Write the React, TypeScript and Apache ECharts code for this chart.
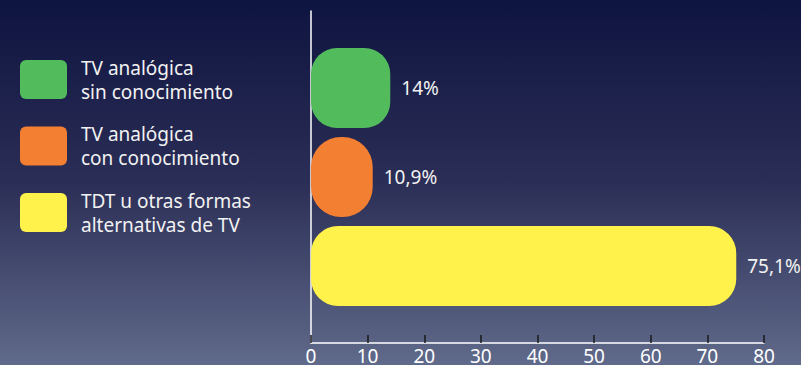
import React, { useEffect, useRef } from "react";
import * as echarts from "echarts";

const categories = ["TV analógica\nsin conocimiento", "TV analógica\ncon conocimiento", "TDT u otras formas\nalternativas de TV"];
const values = [14, 10.9, 75.1];
const valueLabels = ["14%", "10,9%", "75,1%"];
const colors = ["#52bb5c", "#f37f33", "#fff24a"];
const radii = [26, 30, 27];
const xTicks = [0, 10, 20, 30, 40, 50, 60, 70, 80];

const FONT = "'Noto Sans', sans-serif";

export default function App() {
  const ref = useRef<HTMLDivElement>(null);
  useEffect(() => {
    if (!ref.current) return;
    const chart = echarts.init(ref.current, null, { renderer: "svg" });
    const series = categories.map((name, i) => ({
      name,
      type: "bar",
      stack: "all",
      xAxisIndex: 1,
      yAxisIndex: 1,
      barWidth: 80,
      data: categories.map((_, j) => (j === i ? values[i] : "-")),
      itemStyle: { color: colors[i], borderRadius: radii[i] },
      label: {
        show: true,
        position: "right",
        distance: 11,
        color: "#f2f2f2",
        fontSize: 19,
        fontFamily: FONT,
        formatter: () => valueLabels[i],
      },
    }));
    chart.setOption({
      animation: false,
      backgroundColor: {
        type: "linear",
        x: 0, y: 0, x2: 0, y2: 1,
        colorStops: [
          { offset: 0, color: "#0e1440" },
          { offset: 0.5, color: "#2b2e56" },
          { offset: 1, color: "#606a8a" },
        ],
      },
      legend: {
        orient: "vertical",
        left: 20,
        top: 55.5,
        padding: 0,
        itemWidth: 47,
        itemHeight: 39,
        itemGap: 18.5,
        icon: "path://M6,0 H41 A6,6 0 0 1 47,6 V33 A6,6 0 0 1 41,39 H6 A6,6 0 0 1 0,33 V6 A6,6 0 0 1 6,0 Z",
        data: categories,
        textStyle: {
          color: "#f2f2f2",
          fontSize: 19,
          fontFamily: FONT,
          lineHeight: 24,
          padding: [0, 0, 0, 9],
        },
        selectedMode: false,
      },
      grid: [
        { left: 311, right: 37, top: 11, bottom: 22 },
        { left: 311, right: 37, top: 43.5, bottom: 54.5 },
      ],
      xAxis: [
        {
          gridIndex: 0,
          type: "value",
          min: xTicks[0],
          max: xTicks[xTicks.length - 1],
          interval: 10,
          splitLine: { show: false },
          axisLine: { show: true, lineStyle: { color: "#ffffff", width: 1.5 } },
          axisTick: { show: true, inside: true, length: 8, lineStyle: { color: "#1a1a1a", width: 1.5 } },
          axisLabel: { color: "#ffffff", fontSize: 19, fontFamily: FONT, margin: 3 },
        },
        {
          gridIndex: 1,
          type: "value",
          min: xTicks[0],
          max: xTicks[xTicks.length - 1],
          show: false,
        },
      ],
      yAxis: [
        {
          gridIndex: 0,
          type: "category",
          data: categories,
          axisLine: { show: true, lineStyle: { color: "#ffffff", width: 1.5 } },
          axisTick: { show: false },
          axisLabel: { show: false },
        },
        {
          gridIndex: 1,
          type: "category",
          data: categories,
          inverse: true,
          show: false,
        },
      ],
      series,
    });
    return () => chart.dispose();
  }, []);
  return <div ref={ref} style={{ width: 801, height: 365, position: "absolute", left: 0, top: 0 }} />;
}
